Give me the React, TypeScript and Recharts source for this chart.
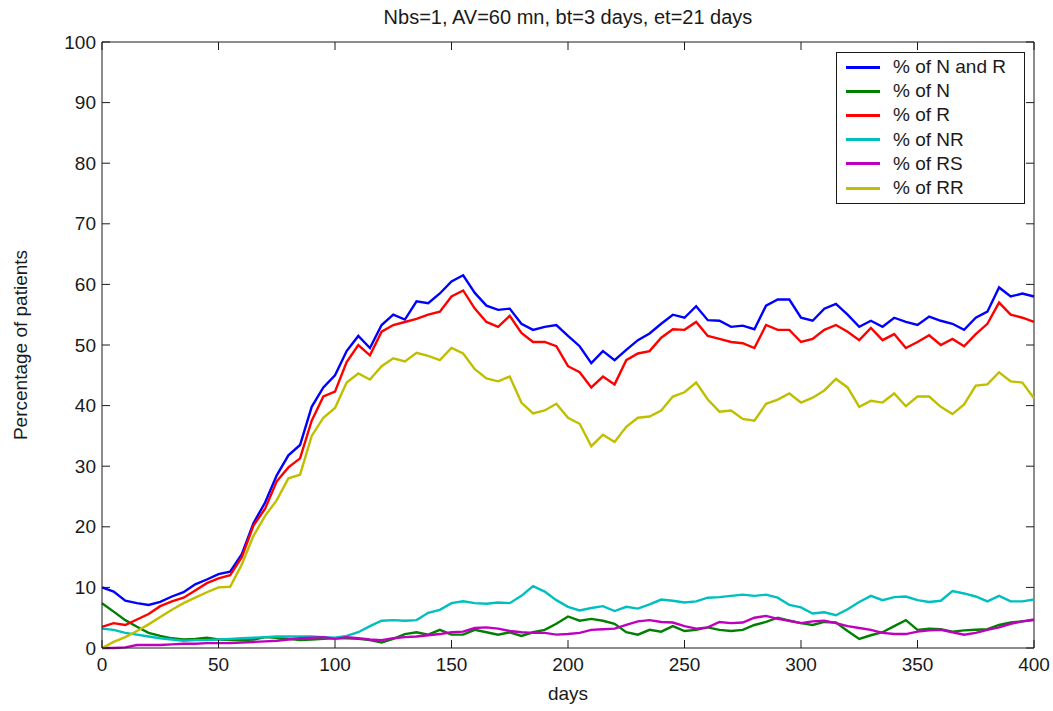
import React from 'react'
import { LineChart, Line, XAxis, YAxis, Legend, Label, ReferenceLine } from 'recharts'

// sampled every 5 days, day 0 .. 400
const nAndR = [
  10.0, 9.3, 7.8, 7.4, 7.1, 7.6, 8.5, 9.2, 10.5, 11.3, 12.2, 12.6, 15.5, 20.6, 24.0, 28.5, 31.8,
  33.5, 39.8, 43.0, 45.0, 49.0, 51.5, 49.5, 53.3, 55.0, 54.2, 57.2, 56.9, 58.5, 60.5, 61.5, 58.6,
  56.5, 55.8, 56.0, 53.5, 52.5, 53.0, 53.3, 51.5, 49.8, 47.0, 49.0, 47.5, 49.2, 50.8, 51.9, 53.5,
  55.0, 54.5, 56.4, 54.1, 54.0, 53.0, 53.2, 52.6, 56.5, 57.5, 57.5, 54.5, 54.0, 56.0, 56.8, 55.0,
  53.0, 54.0, 53.0, 54.5, 53.8, 53.3, 54.7, 54.0, 53.5, 52.5, 54.5, 55.5, 59.5, 58.0, 58.5, 58.0,
]
const nOnly = [
  7.4, 6.0, 4.6, 3.5, 2.5, 2.0, 1.6, 1.4, 1.5, 1.7, 1.4, 1.3, 1.3, 1.4, 1.8, 1.7, 1.5,
  1.3, 1.4, 1.5, 1.6, 1.6, 1.5, 1.3, 0.9, 1.5, 2.3, 2.6, 2.2, 3.0, 2.2, 2.2, 3.0,
  2.6, 2.2, 2.6, 2.0, 2.6, 3.0, 4.0, 5.2, 4.5, 4.8, 4.5, 4.0, 2.6, 2.2, 3.0, 2.7,
  3.6, 2.8, 3.0, 3.4, 3.0, 2.8, 3.0, 3.8, 4.3, 5.0, 4.5, 4.1, 3.8, 4.3, 4.2, 2.8,
  1.5, 2.1, 2.6, 3.6, 4.6, 3.0, 3.2, 3.1, 2.7, 2.9, 3.0, 3.1, 3.8, 4.2, 4.4, 4.6,
]
const rOnly = [
  3.5, 4.1, 3.8, 4.7, 5.6, 6.9, 7.7, 8.3, 9.5, 10.7, 11.5, 12.0, 15.0, 20.2, 23.0, 27.5, 29.8,
  31.3, 37.5, 41.5, 42.3, 47.2, 50.0, 48.3, 52.2, 53.3, 53.8, 54.3, 55.0, 55.5, 58.0, 59.0, 56.0,
  53.8, 53.0, 54.8, 52.0, 50.5, 50.5, 49.8, 46.5, 45.5, 43.0, 44.8, 43.5, 47.5, 48.6, 49.0, 51.2,
  52.6, 52.5, 53.8, 51.5, 51.0, 50.5, 50.3, 49.5, 53.3, 52.5, 52.5, 50.5, 51.0, 52.5, 53.3, 52.2,
  50.8, 52.8, 50.8, 51.8, 49.5, 50.5, 51.6, 50.0, 51.0, 49.8, 51.8, 53.5, 57.0, 55.0, 54.5, 53.8,
]
const nr = [
  3.2, 3.0, 2.5, 2.2, 1.9, 1.6, 1.4, 1.2, 1.3, 1.3, 1.4, 1.5, 1.6, 1.7, 1.8, 1.9, 1.9,
  1.9, 1.9, 1.8, 1.7, 2.0, 2.6, 3.6, 4.5, 4.6, 4.5, 4.6, 5.8, 6.3, 7.4, 7.7, 7.4,
  7.3, 7.5, 7.4, 8.6, 10.2, 9.3, 7.9, 6.8, 6.2, 6.6, 6.9, 6.1, 6.8, 6.5, 7.2, 8.0,
  7.8, 7.5, 7.7, 8.3, 8.4, 8.6, 8.8, 8.6, 8.8, 8.3, 7.1, 6.7, 5.7, 5.9, 5.4, 6.4,
  7.6, 8.6, 7.9, 8.4, 8.5, 7.9, 7.6, 7.8, 9.4, 9.0, 8.5, 7.7, 8.6, 7.7, 7.7, 8.0,
]
const rs = [
  0.0, 0.0, 0.1, 0.5, 0.5, 0.5, 0.6, 0.7, 0.7, 0.8, 0.8, 0.8, 0.9, 1.0, 1.1, 1.2, 1.4,
  1.6, 1.7, 1.8, 1.5, 1.8, 1.6, 1.4, 1.3, 1.6, 1.8, 1.9, 2.1, 2.3, 2.6, 2.7, 3.3,
  3.4, 3.2, 2.8, 2.6, 2.5, 2.5, 2.2, 2.3, 2.5, 3.0, 3.1, 3.2, 3.8, 4.4, 4.6, 4.3,
  4.2, 3.6, 3.2, 3.4, 4.3, 4.1, 4.2, 5.0, 5.3, 4.8, 4.5, 4.1, 4.4, 4.5, 4.1, 3.6,
  3.3, 3.0, 2.5, 2.3, 2.3, 2.7, 2.9, 3.0, 2.6, 2.2, 2.5, 3.0, 3.4, 4.0, 4.4, 4.7,
]
const rr = [
  0.0, 1.0, 1.8, 2.8, 3.9, 5.1, 6.3, 7.4, 8.3, 9.2, 10.0, 10.1, 13.8, 18.5, 21.8, 24.4, 28.0,
  28.6, 35.0, 38.0, 39.6, 43.8, 45.3, 44.3, 46.5, 47.8, 47.3, 48.7, 48.2, 47.5, 49.5, 48.6, 46.0,
  44.5, 44.0, 44.8, 40.5, 38.7, 39.2, 40.3, 38.0, 37.0, 33.3, 35.2, 34.0, 36.5, 38.0, 38.2, 39.2,
  41.5, 42.2, 43.8, 41.0, 39.0, 39.2, 37.8, 37.5, 40.3, 41.0, 42.0, 40.5, 41.3, 42.5, 44.4, 43.0,
  39.8, 40.8, 40.5, 42.0, 39.9, 41.5, 41.5, 39.8, 38.6, 40.2, 43.3, 43.5, 45.5, 44.0, 43.8, 41.2,
]

const dayStep = 5
const xTicks = [0, 50, 100, 150, 200, 250, 300, 350, 400]
const yTicks = [0, 10, 20, 30, 40, 50, 60, 70, 80, 90, 100]

const series = [
  { key: 'nAndR', name: '% of N and R', color: '#0000ff' },
  { key: 'n', name: '% of N', color: '#008000' },
  { key: 'r', name: '% of R', color: '#ff0000' },
  { key: 'nr', name: '% of NR', color: '#00bfbf' },
  { key: 'rs', name: '% of RS', color: '#bf00bf' },
  { key: 'rr', name: '% of RR', color: '#bfbf00' },
]

const data = nAndR.map((v, i) => ({
  day: i * dayStep,
  nAndR: v,
  n: nOnly[i],
  r: rOnly[i],
  nr: nr[i],
  rs: rs[i],
  rr: rr[i],
}))

// plot box, matlab style: ticks point inward and repeat on top/right
const MARGIN = { top: 42, right: 19, bottom: 33, left: 10 }
const W = 1053
const H = 711
const PLOT_TOP = MARGIN.top
const PLOT_RIGHT = W - MARGIN.right
const TICK = 8

const FONT = '"Liberation Sans", Arial, Helvetica, sans-serif'
const INK = '#1a1a1a'
const FS = 19

function XTick(props: any) {
  const { x, y, payload } = props
  return (
    <g>
      <line x1={x} y1={y} x2={x} y2={y - TICK} stroke={INK} />
      <line x1={x} y1={PLOT_TOP} x2={x} y2={PLOT_TOP + TICK} stroke={INK} />
      <text x={x} y={y + 10} dy="0.71em" textAnchor="middle" style={{ fontSize: FS, fill: INK, fontFamily: FONT }}>
        {payload.value}
      </text>
    </g>
  )
}

function YTick(props: any) {
  const { x, y, payload } = props
  return (
    <g>
      <line x1={x} y1={y} x2={x + TICK} y2={y} stroke={INK} />
      <line x1={PLOT_RIGHT} y1={y} x2={PLOT_RIGHT - TICK} y2={y} stroke={INK} />
      <text x={x - 6} y={y} dy="0.35em" textAnchor="end" style={{ fontSize: FS, fill: INK, fontFamily: FONT }}>
        {payload.value}
      </text>
    </g>
  )
}

function YTitle(props: any) {
  const { viewBox } = props
  const cx = viewBox.x + 10
  const cy = viewBox.y + viewBox.height / 2
  return (
    <text x={cx} y={cy} transform={`rotate(-90 ${cx} ${cy})`} textAnchor="middle" dominantBaseline="central"
      style={{ fontSize: FS, fill: INK, fontFamily: FONT }}>
      Percentage of patients
    </text>
  )
}

function XTitle(props: any) {
  const { viewBox } = props
  return (
    <text x={viewBox.x + viewBox.width / 2} y={viewBox.y + 45} textAnchor="middle" dominantBaseline="central"
      style={{ fontSize: FS, fill: INK, fontFamily: FONT }}>
      days
    </text>
  )
}

function LegendBox() {
  return (
    <div style={{ border: `1px solid ${INK}`, background: '#fff', padding: '2px 0 3px 0', fontFamily: FONT, fontSize: FS, color: INK }}>
      {series.map(s => (
        <div key={s.key} style={{ display: 'flex', alignItems: 'center', height: 24.2 }}>
          <span style={{ display: 'inline-block', width: 34, height: 3, background: s.color, marginLeft: 9, marginRight: 13 }} />
          <span>{s.name}</span>
        </div>
      ))}
    </div>
  )
}

export default function App() {
  return (
    <div style={{ position: 'absolute', left: 0, top: 0, width: W, height: H, background: '#fff' }}>
      <div style={{ position: 'absolute', left: 102, top: 6, width: 932, textAlign: 'center', fontFamily: FONT, fontSize: 20, color: INK }}>
        Nbs=1, AV=60 mn, bt=3 days, et=21 days
      </div>
      <LineChart width={W} height={H} data={data} margin={MARGIN}>
        <XAxis dataKey="day" type="number" domain={[0, 400]} ticks={xTicks} height={30}
          tickSize={0} tickMargin={0} tick={<XTick />} tickLine={false} stroke={INK}>
          <Label content={<XTitle />} />
        </XAxis>
        <YAxis type="number" domain={[0, 100]} ticks={yTicks} width={92}
          tickSize={0} tickMargin={0} tick={<YTick />} tickLine={false} stroke={INK}>
          <Label content={<YTitle />} />
        </YAxis>
        <ReferenceLine y={100} stroke={INK} ifOverflow="extendDomain" />
        <ReferenceLine x={400} stroke={INK} ifOverflow="extendDomain" />
        <Legend layout="vertical" align="center" verticalAlign="middle" content={<LegendBox />}
          wrapperStyle={{ left: 836, top: 52, width: 189, height: 'auto' }} />
        {series.map(s => (
          <Line key={s.key} dataKey={s.key} name={s.name} type="linear" stroke={s.color} strokeWidth={2.4}
            dot={false} activeDot={false} isAnimationActive={false} />
        ))}
      </LineChart>
    </div>
  )
}
